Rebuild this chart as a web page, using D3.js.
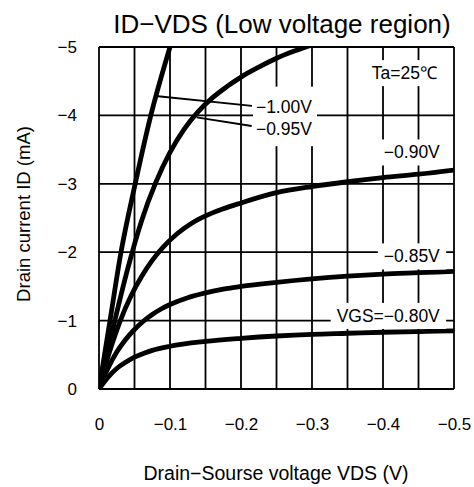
<!DOCTYPE html>
<html><head><meta charset="utf-8">
<script src="https://cdn.jsdelivr.net/npm/d3@7"></script>
<style>
body{margin:0;background:#fff}
text{font-family:"Liberation Sans",Arial,sans-serif;fill:#000}
</style>
</head><body>
<svg id="chart" width="474" height="487"></svg>
<script>
// ---- data ----
const xTicks = [0, -0.1, -0.2, -0.3, -0.4, -0.5];
const yTicks = [0, -1, -2, -3, -4, -5];
const xGrid = [0,-0.05,-0.1,-0.15,-0.2,-0.25,-0.3,-0.35,-0.4,-0.45,-0.5];

const vds080 = [0,-0.0125,-0.025,-0.0375,-0.05,-0.0625,-0.075,-0.1,-0.15,-0.2,-0.25,-0.3,-0.35,-0.4,-0.45,-0.5];
const id080  = [0,-0.17,-0.30,-0.39,-0.465,-0.52,-0.565,-0.625,-0.695,-0.74,-0.775,-0.80,-0.815,-0.83,-0.84,-0.85];
const vds085 = [0,-0.0125,-0.025,-0.0375,-0.05,-0.0625,-0.075,-0.0875,-0.1,-0.125,-0.15,-0.175,-0.2,-0.25,-0.3,-0.35,-0.4,-0.45,-0.5];
const id085  = [0,-0.30,-0.54,-0.725,-0.87,-0.99,-1.09,-1.17,-1.235,-1.335,-1.405,-1.46,-1.50,-1.56,-1.61,-1.65,-1.68,-1.70,-1.72];
const vds090 = [0,-0.01,-0.02,-0.03,-0.045,-0.06,-0.075,-0.09,-0.11,-0.13,-0.15,-0.175,-0.2,-0.25,-0.3,-0.35,-0.4,-0.45,-0.5];
const id090  = [0,-0.38,-0.71,-1.0,-1.36,-1.645,-1.88,-2.07,-2.27,-2.42,-2.53,-2.635,-2.72,-2.87,-2.96,-3.03,-3.09,-3.14,-3.20];
const vds095 = [0,-0.02,-0.04,-0.06,-0.08,-0.1,-0.12,-0.14,-0.16,-0.18,-0.2,-0.225,-0.25,-0.275,-0.3];
const id095  = [0,-0.9,-1.74,-2.46,-3.02,-3.46,-3.80,-4.06,-4.26,-4.42,-4.56,-4.705,-4.835,-4.94,-5.03];
const vds100 = [0,-0.0155,-0.031,-0.051,-0.073,-0.1];
const id100  = [0,-1,-2,-3,-4,-5];

const seriesNames = ["VGS=−0.80V","−0.85V","−0.90V","−0.95V","−1.00V"];

// ---- layout ----
const L = 99, R = 454, T = 47, B = 389;
const svg = d3.select("#chart");
const x = d3.scaleLinear().domain([0,-0.5]).range([L,R]);
const y = d3.scaleLinear().domain([0,-5]).range([B,T]);
const fmt = d => d === 0 ? "0" : "−" + String(Math.abs(d));

// grid
const g = svg.append("g").attr("stroke","#000").attr("stroke-width",1.8);
g.selectAll("line.v").data(xGrid).join("line")
  .attr("x1",d=>x(d)).attr("x2",d=>x(d)).attr("y1",T).attr("y2",B);
g.selectAll("line.h").data(yTicks).join("line")
  .attr("x1",L).attr("x2",R).attr("y1",d=>y(d)).attr("y2",d=>y(d));

// axes labels via d3 axes (no domain/tick lines)
const xAxis = svg.append("g").attr("transform",`translate(0,${B})`)
  .call(d3.axisBottom(x).tickValues(xTicks).tickFormat(fmt).tickSize(0).tickPadding(29));
const yAxis = svg.append("g").attr("transform",`translate(${L},0)`)
  .call(d3.axisLeft(y).tickValues(yTicks).tickFormat(fmt).tickSize(0).tickPadding(22));
[xAxis,yAxis].forEach(a=>{a.select(".domain").remove();
  a.selectAll("text").attr("font-family","Liberation Sans, Arial, sans-serif").attr("font-size",17);});

// curves
svg.append("clipPath").attr("id","clip").append("rect")
  .attr("x",L).attr("y",T).attr("width",R-L).attr("height",B-T);
const line = d3.line().x(d=>x(d[0])).y(d=>y(d[1])).curve(d3.curveMonotoneX);
const series = [[vds080,id080],[vds085,id085],[vds090,id090],[vds095,id095],[vds100,id100]];
svg.append("g").attr("clip-path","url(#clip)")
  .selectAll("path").data(series).join("path")
  .attr("d",s=>line(s[0].map((v,i)=>[v,s[1][i]])))
  .attr("fill","none").attr("stroke","#000").attr("stroke-width",4.8)
  .attr("stroke-linecap","round");

// leader lines for -1.00V / -0.95V
const leaders = [[-0.0831,-4.28,-0.2155,-4.14],[-0.1376,-3.97,-0.215,-3.845]];
svg.append("g").selectAll("line").data(leaders).join("line")
  .attr("x1",d=>x(d[0])).attr("y1",d=>y(d[1])).attr("x2",d=>x(d[2])).attr("y2",d=>y(d[3]))
  .attr("stroke","#000").attr("stroke-width",1.8);

// labels with white backgrounds
const labels = [
  {t:"Ta=25℃", vx:-0.476, vy:-4.62, a:"end"},
  {t:seriesNames[4], vx:-0.221, vy:-4.12, a:"start", bg:false},
  {t:seriesNames[3], vx:-0.221, vy:-3.80, a:"start", bg:false},
  {t:seriesNames[2], vx:-0.480, vy:-3.46, a:"end"},
  {t:seriesNames[1], vx:-0.480, vy:-1.94, a:"end"},
  {t:seriesNames[0], vx:-0.480, vy:-1.07, a:"end"}
];
const lg = svg.append("g");
lg.append("rect").attr("x",x(-0.2155)+1).attr("y",y(-4.42)).attr("width",64).attr("height",y(-3.55)-y(-4.42)).attr("fill","#fff");
labels.forEach(l=>{
  const tx = lg.append("text").attr("x",x(l.vx)).attr("y",y(l.vy)).attr("dy","0.35em")
    .attr("text-anchor",l.a).attr("font-size",17.5).text(l.t);
  if (l.bg !== false) {
    const bb = tx.node().getBBox();
    lg.insert("rect","text").attr("x",bb.x-6).attr("y",bb.y-3).attr("width",bb.width+12).attr("height",bb.height+6).attr("fill","#fff");
  }
});

// titles
svg.append("text").attr("x",282).attr("y",33).attr("text-anchor","middle")
  .attr("font-size",26).text("ID−VDS (Low voltage region)");
svg.append("text").attr("x",276).attr("y",480).attr("text-anchor","middle")
  .attr("font-size",19.5).text("Drain−Sourse voltage VDS (V)");
svg.append("text").attr("transform","translate(30,214) rotate(-90)").attr("text-anchor","middle")
  .attr("font-size",18.5).text("Drain current ID (mA)");
</script>
</body></html>
